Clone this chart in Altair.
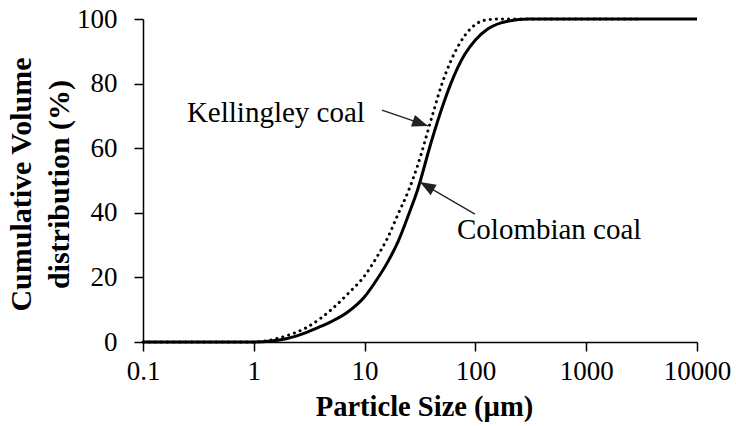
import altair as alt
import pandas as pd

# Particle size (µm) and cumulative volume distribution (%)
sizes = [0.1, 0.5, 1, 1.5, 2, 3, 4, 5, 7, 10, 13, 16, 20, 25, 30, 40, 50, 60,
         80, 100, 130, 170, 200, 300, 500, 1000, 3000, 10000]
colombian = [0, 0, 0, 0.4, 1.1, 3, 4.8, 6.3, 9.2, 14, 19.5, 24.5, 31, 39.5, 47,
             62, 72.5, 80, 89, 93.5, 97, 98.8, 99.4, 100, 100, 100, 100, 100]

kellingley_sizes = [0.1, 0.5, 1, 1.5, 2, 3, 4, 5, 7, 10, 13, 16, 20, 25, 30, 40,
                    50, 60, 80, 100, 130, 170, 200, 300, 500, 1000, 3000]
kellingley = [0, 0, 0, 0.8, 2, 4.5, 7.3, 10, 14.8, 20.5, 26.5, 32, 39.5, 47,
              54.5, 69, 80, 87, 94.8, 98.3, 99.8, 100, 100, 100, 100, 100, 100]

x_ticks = [0.1, 1, 10, 100, 1000, 10000]
y_ticks = [0, 20, 40, 60, 80, 100]

# annotations
label_text = ["Kellingley coal", "Colombian coal"]
label_x = [0.249, 68.2]
label_y = [68.1, 31.8]
arrow_x0 = [14.35, 99.1]
arrow_y0 = [71.8, 39.6]
arrow_x1 = [37.3, 31.6]
arrow_y1 = [66.9, 49.5]
arrow_angle = [109, 300]

df_c = pd.DataFrame({"size": sizes, "pct": colombian})
df_k = pd.DataFrame({"size": kellingley_sizes, "pct": kellingley})
df_lab = pd.DataFrame({"x": label_x, "y": label_y, "t": label_text})
df_arr = pd.DataFrame({"x0": arrow_x0, "y0": arrow_y0, "x1": arrow_x1,
                       "y1": arrow_y1, "ang": arrow_angle})

FONT = "Liberation Serif"
x_scale = alt.Scale(type="log", domain=[0.1, 10000], nice=False)
y_scale = alt.Scale(domain=[0, 100], nice=False)

common = dict(labelFont=FONT, titleFont=FONT, labelFontSize=27,
              labelColor="black", titleColor="black", titleFontWeight="bold",
              domainColor="black", tickColor="black", domainWidth=1.5,
              tickWidth=1.5, grid=False, tickSize=9)

x_axis = alt.Axis(title="Particle Size (µm)", values=x_ticks, format="~g",
                  labelPadding=7, labelBaseline="top",
                  titleX=281, titleY=73, titleBaseline="alphabetic",
                  titleAlign="center", titleFontSize=28.5, labelFlush=False,
                  labelOverlap=False, **common)
y_axis = alt.Axis(title=["Cumulative Volume", "distribution (%)"], values=y_ticks,
                  labelPadding=17, titleFontSize=30,
                  titleLineHeight=38, titleX=-122, titleY=165,
                  titleBaseline="middle", titleAlign="center", titleAngle=270,
                  **common)

X = alt.X("size:Q", scale=x_scale, axis=x_axis)
Y = alt.Y("pct:Q", scale=y_scale, axis=y_axis)

line_k = alt.Chart(df_k).mark_line(
    color="black", strokeWidth=3, strokeDash=[0.1, 6], strokeCap="round",
    interpolate="monotone").encode(x=X, y=Y)
line_c = alt.Chart(df_c).mark_line(
    color="black", strokeWidth=3, interpolate="monotone").encode(x=X, y=Y)

arrows = alt.Chart(df_arr).mark_rule(color="#222222", strokeWidth=1.3).encode(
    x=alt.X("x0:Q", scale=x_scale), y=alt.Y("y0:Q", scale=y_scale),
    x2="x1:Q", y2="y1:Q")
heads = alt.Chart(df_arr).mark_point(
    shape="M0,0L-0.38,1L0.38,1Z", filled=True, color="#222222", opacity=1,
    size=1000).encode(
    x=alt.X("x1:Q", scale=x_scale), y=alt.Y("y1:Q", scale=y_scale),
    angle=alt.Angle("ang:Q", scale=None))
labels = alt.Chart(df_lab).mark_text(
    align="left", baseline="alphabetic", font=FONT, fontSize=29,
    color="black").encode(
    x=alt.X("x:Q", scale=x_scale), y=alt.Y("y:Q", scale=y_scale), text="t:N")

chart = alt.layer(line_k, line_c, arrows, heads, labels).properties(
    width=554, height=323,
    autosize=alt.AutoSizeParams(type="none"),
    padding={"left": 143, "top": 19, "right": 39, "bottom": 84},
    background="white",
).configure_view(stroke=None).configure_text(font=FONT)

chart.save("out.html", embed_options={"renderer": "svg", "actions": False})
